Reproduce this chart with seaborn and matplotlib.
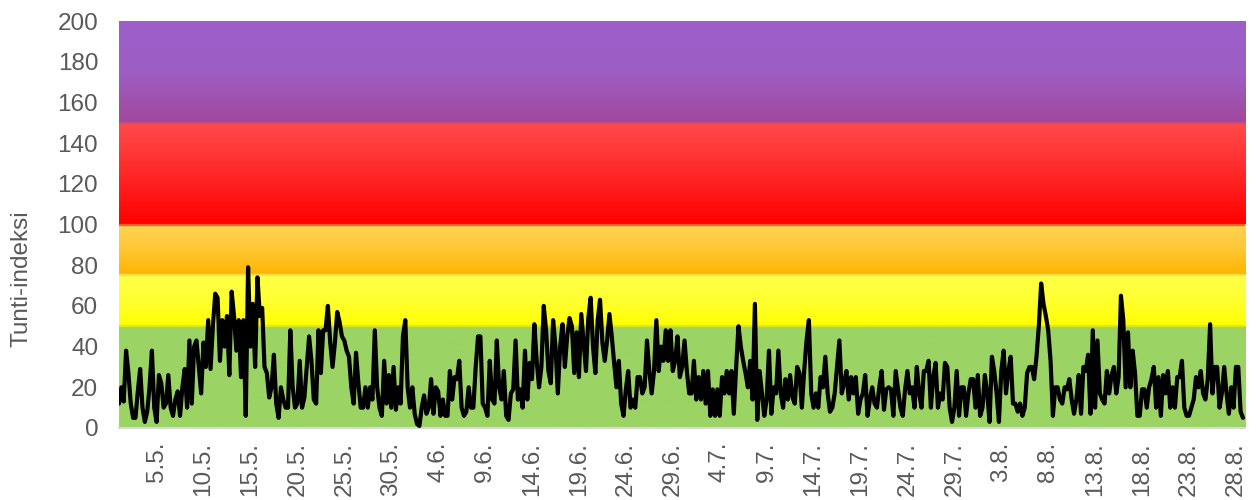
import numpy as np
import pandas as pd
import matplotlib
matplotlib.use("Agg")
import matplotlib.pyplot as plt
import matplotlib.dates as mdates
from matplotlib.colors import LinearSegmentedColormap
import seaborn as sns

# 6-hourly index values (00, 06, 12, 18)
may_values = [
    12, 20, 13, 38,  27, 12, 5, 5,  18, 29, 10, 3,  8, 20, 38, 10,  3, 26, 22, 10,
    12, 26, 10, 6,  14, 18, 6, 20,  29, 10, 43, 12,  40, 43, 30, 17,  42, 30, 53, 29,
    50, 66, 64, 33,  53, 40, 55, 26,  67, 55, 38, 53,  25, 53, 6, 79,  40, 61, 30, 74,
    55, 59, 30, 27,  15, 20, 36, 12,  5, 20, 14, 10,  10, 48, 20, 10,  12, 33, 10, 15,
    30, 45, 33, 14,  12, 48, 27, 48,  48, 60, 42, 30,  42, 57, 52, 45,  43, 38, 35, 20,
    12, 37, 22, 10,  10, 20, 10, 20,  14, 48, 20, 10,  6, 33, 12, 26,  10, 30, 9, 20,
    12, 45, 53, 20,
]
june_values = [
    10, 20, 7, 2,  1, 10, 16, 7,  10, 24, 7, 20,  18, 6, 14, 6,  6, 28, 14, 25,
    24, 33, 10, 6,  8, 20, 10, 10,  30, 45, 45, 12,  10, 6, 33, 14,  12, 43, 20, 14,
    28, 6, 4, 17,  19, 43, 14, 19,  10, 38, 14, 32,  24, 51, 33, 20,  30, 60, 48, 28,
    22, 53, 40, 17,  40, 51, 30, 45,  54, 50, 27, 47,  25, 56, 42, 28,  54, 64, 40, 27,
    53, 63, 42, 33,  43, 56, 45, 32,  20, 33, 12, 6,  19, 28, 10, 14,  10, 25, 25, 17,
    20, 43, 28, 17,  28, 53, 28, 40,  33, 48, 33, 48,  28, 33, 45, 25,  30, 43, 28, 17,
]
july_values = [
    17, 33, 14, 25,  14, 28, 12, 28,  6, 19, 6, 19,  6, 25, 17, 28,  17, 28, 7, 30,
    50, 40, 33, 27,  20, 33, 14, 61,  4, 28, 17, 6,  14, 38, 7, 20,  17, 38, 17, 10,
    24, 14, 26, 15,  12, 30, 27, 10,  28, 43, 53, 17,  10, 17, 10, 25,  20, 35, 17, 8,
    10, 17, 30, 43,  17, 22, 28, 14,  25, 17, 25, 7,  14, 17, 26, 6,  14, 20, 12, 10,
    20, 28, 9, 19,  20, 19, 6, 28,  19, 10, 6, 19,  28, 17, 20, 10,  30, 17, 10, 28,
    28, 33, 10, 25,  32, 10, 17, 14,  32, 30, 10, 3,  10, 28, 6, 20,  20, 6, 17, 24,
    24, 10, 26, 6,
]
aug_values = [
    10, 26, 17, 3,  35, 28, 17, 3,  28, 38, 17, 28,  35, 12, 12, 8,  12, 6, 10, 27,
    30, 30, 24, 35,  50, 71, 61, 55,  48, 33, 6, 20,  20, 14, 12, 20,  19, 24, 14, 7,
    14, 26, 7, 30,  28, 36, 7, 48,  10, 43, 17, 14,  12, 28, 17, 26,  30, 17, 25, 65,
    53, 20, 47, 20,  38, 27, 6, 6,  19, 19, 10, 20,  24, 30, 10, 25,  6, 26, 17, 28,
    10, 20, 10, 25,  25, 33, 10, 6,  6, 10, 14, 25,  20, 28, 17, 14,  24, 51, 17, 30,
    30, 10, 17, 30,  17, 7, 20, 10,  30, 30, 8, 5,
]

# index classes: (low, high) and colours bottom -> top
band_limits = [(0, 50), (50, 75), (75, 100), (100, 150), (150, 200)]
band_colors = [
    ["#9bd464", "#9bd464"],
    ["#ffff00", "#ffff30", "#ffff48"],
    ["#ffb400", "#ffc733", "#ffd454"],
    ["#ff0000", "#ff2828", "#ff4c4c"],
    ["#a2489c", "#9d5ec4", "#9c60ca"],
]
edge_colors = ["#dde81c", "#ffe04a", "#ff5a28", "#c05088"]

values = may_values + june_values + july_values + aug_values
df = pd.DataFrame({
    "time": pd.date_range("2019-05-01", periods=len(values), freq="6h"),
    "index": values,
})

sns.set_style("white")
plt.rcParams["font.family"] = ["Liberation Sans", "DejaVu Sans"]

fig = plt.figure(figsize=(12.57, 5.0), dpi=100)
ax = fig.add_axes([0.0947, 0.144, 0.896, 0.814])

for (lo, hi), cols in zip(band_limits, band_colors):
    cmap = LinearSegmentedColormap.from_list("band", cols)
    grad = np.linspace(0, 1, 256).reshape(-1, 1)
    ax.imshow(grad, cmap=cmap, origin="lower", aspect="auto",
              extent=(0, 1, lo, hi), transform=ax.get_yaxis_transform(), zorder=0)
for (lo, hi), c in zip(band_limits[1:], edge_colors):
    ax.axhline(lo, color=c, lw=1.6, zorder=1)

sns.lineplot(data=df, x="time", y="index", color="black", lw=3.0, ax=ax, zorder=3)

ax.set_xlim(pd.Timestamp("2019-05-01"), pd.Timestamp("2019-08-29"))
ax.set_ylim(0, 200)
ax.set_yticks(np.arange(0, 201, 20))

ticks = pd.date_range("2019-05-05", "2019-08-28", freq="5D")
ax.set_xticks(ticks)
ax.set_xticklabels([f"{t.day}.{t.month}." for t in ticks], rotation=90,
                   fontsize=17.5, color="#595959")
ax.xaxis.set_minor_locator(mdates.DayLocator())
ax.tick_params(axis="x", which="major", direction="in", length=6, width=1.2,
               color="#e4e4e4", pad=10)
ax.tick_params(axis="x", which="minor", direction="in", length=4, width=1.2,
               color="#e4e4e4")
ax.tick_params(axis="y", length=0, labelsize=17.5, labelcolor="#595959", pad=15)

ax.set_xlabel("")
ax.set_ylabel("Tunti-indeksi", fontsize=17.5, color="#595959")
ax.yaxis.set_label_coords(-0.077, 0.366)

for s in ["top", "right", "left"]:
    ax.spines[s].set_visible(False)
ax.spines["bottom"].set_color("#d9d9d9")
ax.spines["bottom"].set_linewidth(1.5)

fig.savefig("out.png", dpi=100)
